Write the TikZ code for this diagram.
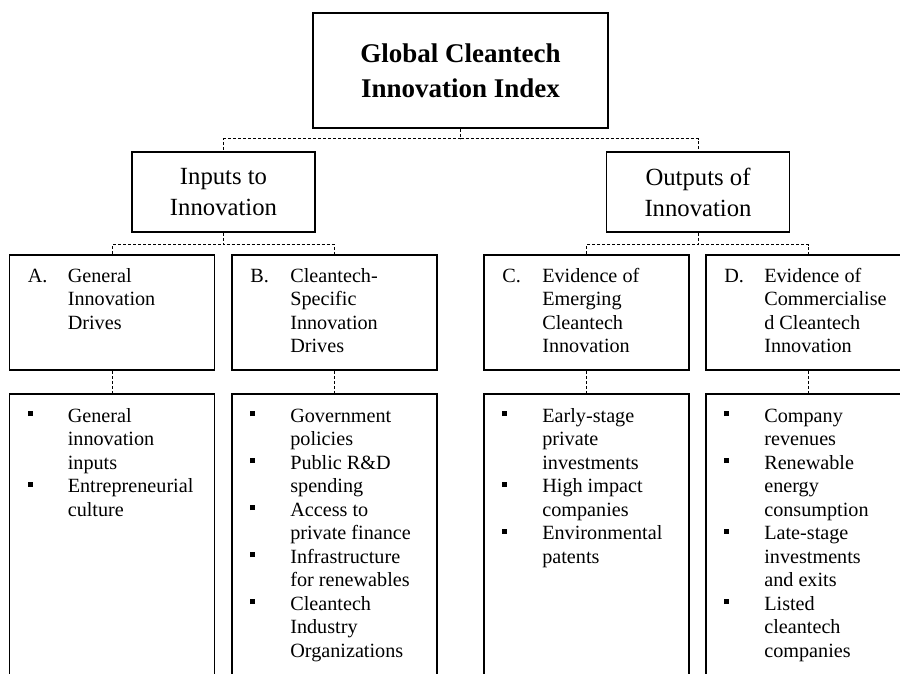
\documentclass[tikz,border=0pt]{standalone}
\usepackage{fontspec}
\setmainfont{Liberation Serif}
\newcommand{\sqbullet}{\rule[6pt]{5pt}{5pt}}
\tikzset{
  boxline/.style={draw,line width=1.8pt,inner sep=0pt},
  titlebox/.style={boxline,minimum width=295pt,minimum height=115pt,align=center,font=\fontsize{27}{35}\selectfont\bfseries},
  midbox/.style={boxline,minimum width=183pt,minimum height=80pt,align=center,font=\fontsize{24.7}{31}\selectfont},
  catbox/.style={boxline,minimum width=205pt,minimum height=115pt},
  listbox/.style={boxline,minimum width=205pt,minimum height=320pt},
  boxtext/.style={anchor=base west,inner sep=0pt,font=\fontsize{20.2}{23.6}\selectfont},
  conn/.style={line width=0.9pt,dash pattern=on 3pt off 2pt}
}
\begin{document}
\begin{tikzpicture}[x=1pt,y=-1pt]
\clip (0,0) rectangle (900,673);
\node[titlebox] (gcii) at (460.5,70.5) {Global Cleantech\\Innovation Index};
\node[midbox] (inputs) at (223.5,192) {Inputs to\\Innovation};
\node[midbox] (outputs) at (698,192) {Outputs of\\Innovation};
\node[catbox] (A) at (112,312.5) {};
\node[catbox] (B) at (334.5,312.5) {};
\node[catbox] (C) at (586.5,312.5) {};
\node[catbox] (D) at (808.5,312.5) {};
\node[listbox] (listA) at (112,554) {};
\node[listbox] (listB) at (334.5,554) {};
\node[listbox] (listC) at (586.5,554) {};
\node[listbox] (listD) at (808.5,554) {};
\node[boxtext] (A-txt) at ([xshift=19pt,yshift=-28pt]A.north west)
  {\begin{tabular}[t]{@{}p{40pt}@{}l@{}}A. & General\\ & Innovation\\ & Drives\end{tabular}};
\node[boxtext] (B-txt) at ([xshift=19pt,yshift=-28pt]B.north west)
  {\begin{tabular}[t]{@{}p{40pt}@{}l@{}}B. & Cleantech-\\ & Specific\\ & Innovation\\ & Drives\end{tabular}};
\node[boxtext] (C-txt) at ([xshift=19pt,yshift=-28pt]C.north west)
  {\begin{tabular}[t]{@{}p{40pt}@{}l@{}}C. & Evidence of\\ & Emerging\\ & Cleantech\\ & Innovation\end{tabular}};
\node[boxtext] (D-txt) at ([xshift=19pt,yshift=-28pt]D.north west)
  {\begin{tabular}[t]{@{}p{40pt}@{}l@{}}D. & Evidence of\\ & Commercialise\\ & d Cleantech\\ & Innovation\end{tabular}};
\node[boxtext,font=\fontsize{20.2}{23.5}\selectfont] (listA-txt) at ([xshift=19pt,yshift=-29pt]listA.north west)
  {\begin{tabular}[t]{@{}p{40pt}@{}l@{}}\sqbullet & General\\ & innovation\\ & inputs\\
   \sqbullet & Entrepreneurial\\ & culture\end{tabular}};
\node[boxtext,font=\fontsize{20.2}{23.5}\selectfont] (listB-txt) at ([xshift=19pt,yshift=-29pt]listB.north west)
  {\begin{tabular}[t]{@{}p{40pt}@{}l@{}}\sqbullet & Government\\ & policies\\
   \sqbullet & Public R\&D\\ & spending\\
   \sqbullet & Access to\\ & private finance\\
   \sqbullet & Infrastructure\\ & for renewables\\
   \sqbullet & Cleantech\\ & Industry\\ & Organizations\end{tabular}};
\node[boxtext,font=\fontsize{20.2}{23.5}\selectfont] (listC-txt) at ([xshift=19pt,yshift=-29pt]listC.north west)
  {\begin{tabular}[t]{@{}p{40pt}@{}l@{}}\sqbullet & Early-stage\\ & private\\ & investments\\
   \sqbullet & High impact\\ & companies\\
   \sqbullet & Environmental\\ & patents\end{tabular}};
\node[boxtext,font=\fontsize{20.2}{23.5}\selectfont] (listD-txt) at ([xshift=19pt,yshift=-29pt]listD.north west)
  {\begin{tabular}[t]{@{}p{40pt}@{}l@{}}\sqbullet & Company\\ & revenues\\
   \sqbullet & Renewable\\ & energy\\ & consumption\\
   \sqbullet & Late-stage\\ & investments\\ & and exits\\
   \sqbullet & Listed\\ & cleantech\\ & companies\end{tabular}};
\draw[conn] (gcii.south) -- ++(0,10) -| (inputs.north);
\draw[conn] (gcii.south) -- ++(0,10) -| (outputs.north);
\draw[conn] (inputs.south) -- ++(0,12) -| (A.north);
\draw[conn] (inputs.south) -- ++(0,12) -| (B.north);
\draw[conn] (outputs.south) -- ++(0,12) -| (C.north);
\draw[conn] (outputs.south) -- ++(0,12) -| (D.north);
\draw[conn] (A.south) -- (listA.north);
\draw[conn] (B.south) -- (listB.north);
\draw[conn] (C.south) -- (listC.north);
\draw[conn] (D.south) -- (listD.north);
\end{tikzpicture}
\end{document}
